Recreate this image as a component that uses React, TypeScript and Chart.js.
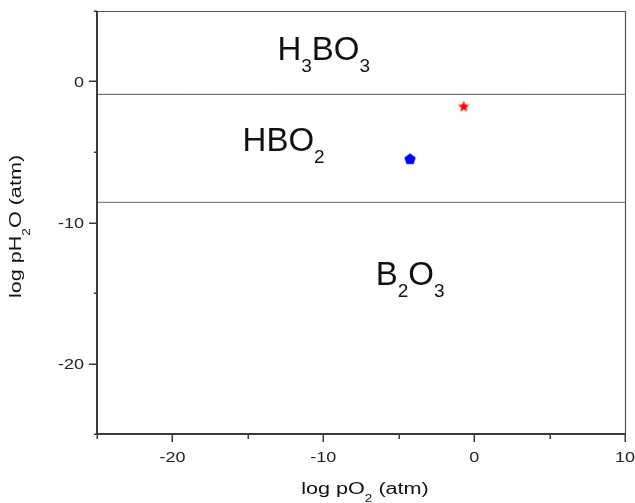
import { useEffect, useRef } from "react";
import { Chart, registerables } from "chart.js";

Chart.register(...registerables);

// ---- data ----
const xRange = [-25, 10];
const yRange = [-25, 5];
const xMajorTicks = [-20, -10, 0, 10];
const xMinorTicks = [-25, -15, -5, 5];
const yMajorTicks = [-20, -10, 0];
const yMinorTicks = [-25, -15, -5, 5];
const boundaryUpper = -0.91; // H3BO3 / HBO2
const boundaryLower = -8.57; // HBO2 / B2O3
const starPoints = [{ x: -0.69, y: -1.76 }];
const pentagonPoints = [{ x: -4.25, y: -5.48 }];
const regionLabels = ["H_3BO_3", "HBO_2", "B_2O_3"];
const regionX = [-13.04, -15.35, -6.52];
const regionY = [1.52, -4.93, -14.43];
const xTitle = "log pO_2 (atm)";
const yTitle = "log pH_2O (atm)";

const FONT = '"Liberation Sans", Arial, sans-serif';

type Seg = { t: string; sub: boolean };
function parseRich(s: string): Seg[] {
  const out: Seg[] = [];
  const re = /_(\d)/g;
  let last = 0;
  let m: RegExpExecArray | null;
  while ((m = re.exec(s))) {
    if (m.index > last) out.push({ t: s.slice(last, m.index), sub: false });
    out.push({ t: m[1], sub: true });
    last = m.index + m[0].length;
  }
  if (last < s.length) out.push({ t: s.slice(last), sub: false });
  return out;
}

function measureRich(ctx: CanvasRenderingContext2D, segs: Seg[], main: string, sub: string) {
  let w = 0;
  for (const s of segs) {
    ctx.font = s.sub ? sub : main;
    w += ctx.measureText(s.t).width;
  }
  return w;
}

function drawRich(
  ctx: CanvasRenderingContext2D,
  segs: Seg[],
  main: string,
  sub: string,
  drop: number
) {
  let cx = 0;
  ctx.textAlign = "left";
  ctx.textBaseline = "alphabetic";
  for (const s of segs) {
    ctx.font = s.sub ? sub : main;
    ctx.fillText(s.t, cx, s.sub ? drop : 0);
    cx += ctx.measureText(s.t).width;
  }
}

function makeStar(color: string) {
  const c = document.createElement("canvas");
  c.width = 14;
  c.height = 14;
  const g = c.getContext("2d")!;
  const R = 6, r = 2.6, cx = 7, cy = 7.4;
  g.beginPath();
  for (let i = 0; i < 10; i++) {
    const rad = i % 2 === 0 ? R : r;
    const a = -Math.PI / 2 + (i * Math.PI) / 5;
    const px = cx + rad * Math.cos(a);
    const py = cy + rad * Math.sin(a);
    if (i === 0) g.moveTo(px, py);
    else g.lineTo(px, py);
  }
  g.closePath();
  g.fillStyle = color;
  g.fill();
  return c;
}

function makePentagon(color: string) {
  const c = document.createElement("canvas");
  c.width = 14;
  c.height = 14;
  const g = c.getContext("2d")!;
  const R = 6, cx = 7, cy = 7.5;
  g.beginPath();
  for (let i = 0; i < 5; i++) {
    const a = -Math.PI / 2 + (i * 2 * Math.PI) / 5;
    const px = cx + R * Math.cos(a);
    const py = cy + R * Math.sin(a);
    if (i === 0) g.moveTo(px, py);
    else g.lineTo(px, py);
  }
  g.closePath();
  g.fillStyle = color;
  g.fill();
  return c;
}

const decorPlugin = {
  id: "decor",
  afterDatasetsDraw(chart: any) {
    const ctx: CanvasRenderingContext2D = chart.ctx;
    const { left, right, top, bottom } = chart.chartArea;
    const xs = chart.scales.x;
    const ys = chart.scales.y;
    ctx.save();

    // frame
    ctx.strokeStyle = "#555";
    ctx.lineWidth = 1.2;
    ctx.beginPath();
    ctx.moveTo(left, top + 0.5);
    ctx.lineTo(right + 0.5, top + 0.5);
    ctx.lineTo(right + 0.5, bottom);
    ctx.stroke();

    ctx.strokeStyle = "#3a3a3a";
    ctx.lineWidth = 2;
    ctx.beginPath();
    ctx.moveTo(left, top);
    ctx.lineTo(left, bottom);
    ctx.lineTo(right + 1, bottom);
    ctx.stroke();

    // ticks
    ctx.lineWidth = 1.5;
    ctx.beginPath();
    for (const v of xMajorTicks) {
      const p = Math.round(xs.getPixelForValue(v)) + 0.25;
      ctx.moveTo(p, bottom);
      ctx.lineTo(p, bottom + 8);
    }
    for (const v of xMinorTicks) {
      const p = Math.round(xs.getPixelForValue(v)) + 0.25;
      ctx.moveTo(p, bottom);
      ctx.lineTo(p, bottom + 5);
    }
    for (const v of yMajorTicks) {
      const p = Math.round(ys.getPixelForValue(v)) + 0.25;
      ctx.moveTo(left, p);
      ctx.lineTo(left - 8, p);
    }
    for (const v of yMinorTicks) {
      const p = Math.round(ys.getPixelForValue(v)) + 0.25;
      ctx.moveTo(left, p);
      ctx.lineTo(left - 3, p);
    }
    ctx.stroke();

    // tick labels
    ctx.fillStyle = "#222";
    ctx.font = `15px ${FONT}`;
    const ts = 1.2;
    for (const v of xMajorTicks) {
      const p = xs.getPixelForValue(v);
      const label = String(v);
      const w = ctx.measureText(label).width * ts;
      ctx.save();
      ctx.translate(p - w / 2, bottom + 27.5);
      ctx.scale(ts, 1);
      ctx.textAlign = "left";
      ctx.textBaseline = "alphabetic";
      ctx.fillText(label, 0, 0);
      ctx.restore();
    }
    for (const v of yMajorTicks) {
      const p = ys.getPixelForValue(v);
      const label = String(v);
      const w = ctx.measureText(label).width * ts;
      ctx.save();
      ctx.translate(left - 13 - w, p + 5.5);
      ctx.scale(ts, 1);
      ctx.textAlign = "left";
      ctx.textBaseline = "alphabetic";
      ctx.fillText(label, 0, 0);
      ctx.restore();
    }

    // axis titles
    const tMain = `16px ${FONT}`;
    const tSub = `10px ${FONT}`;
    const hs = 1.35;
    ctx.fillStyle = "#111";
    const xSegs = parseRich(xTitle);
    const xw = measureRich(ctx, xSegs, tMain, tSub) * hs;
    ctx.save();
    ctx.translate((left + right) / 2 + 4 - xw / 2, bottom + 60);
    ctx.scale(hs, 1);
    drawRich(ctx, xSegs, tMain, tSub, 8);
    ctx.restore();

    const ySegs = parseRich(yTitle);
    const yw = measureRich(ctx, ySegs, tMain, tSub) * hs;
    ctx.save();
    ctx.translate(21, (top + bottom) / 2 + 4 + yw / 2);
    ctx.rotate(-Math.PI / 2);
    ctx.scale(hs, 1);
    drawRich(ctx, ySegs, tMain, tSub, 9);
    ctx.restore();

    // region labels
    const rMain = `33px ${FONT}`;
    const rSub = `19px ${FONT}`;
    ctx.fillStyle = "#111";
    regionLabels.forEach((lab, i) => {
      const px = xs.getPixelForValue(regionX[i]);
      const py = ys.getPixelForValue(regionY[i]);
      ctx.save();
      ctx.translate(px, py);
      drawRich(ctx, parseRich(lab), rMain, rSub, 12);
      ctx.restore();
    });

    ctx.restore();
  },
};

export default function App() {
  const ref = useRef<HTMLCanvasElement | null>(null);
  useEffect(() => {
    if (!ref.current) return;
    const star = makeStar("#ff0000");
    const pent = makePentagon("#0000ff");
    const chart = new Chart(ref.current, {
      type: "scatter",
      data: {
        datasets: [
          {
            type: "line",
            data: [
              { x: xRange[0], y: boundaryUpper },
              { x: xRange[1], y: boundaryUpper },
            ],
            borderColor: "#555",
            borderWidth: 1,
            pointRadius: 0,
          },
          {
            type: "line",
            data: [
              { x: xRange[0], y: boundaryLower },
              { x: xRange[1], y: boundaryLower },
            ],
            borderColor: "#666",
            borderWidth: 1,
            pointRadius: 0,
          },
          {
            data: starPoints,
            pointStyle: star as any,
            pointRadius: 6,
            backgroundColor: "#ff0000",
            borderColor: "#ff0000",
          },
          {
            data: pentagonPoints,
            pointStyle: pent as any,
            pointRadius: 6,
            backgroundColor: "#0000ff",
            borderColor: "#0000ff",
          },
        ],
      } as any,
      options: {
        animation: false,
        responsive: false,
        events: [],
        layout: { padding: { left: 97, right: 10, top: 11, bottom: 69 } },
        plugins: { legend: { display: false }, tooltip: { enabled: false } },
        scales: {
          x: { type: "linear", min: xRange[0], max: xRange[1], display: false },
          y: { type: "linear", min: yRange[0], max: yRange[1], display: false },
        },
      },
      plugins: [decorPlugin],
    });
    return () => chart.destroy();
  }, []);
  return (
    <div
      style={{
        position: "absolute",
        left: 0,
        top: 0,
        width: 635,
        height: 503,
        background: "#fff",
      }}
    >
      <canvas ref={ref} width={635} height={503} style={{ display: "block" }} />
    </div>
  );
}
